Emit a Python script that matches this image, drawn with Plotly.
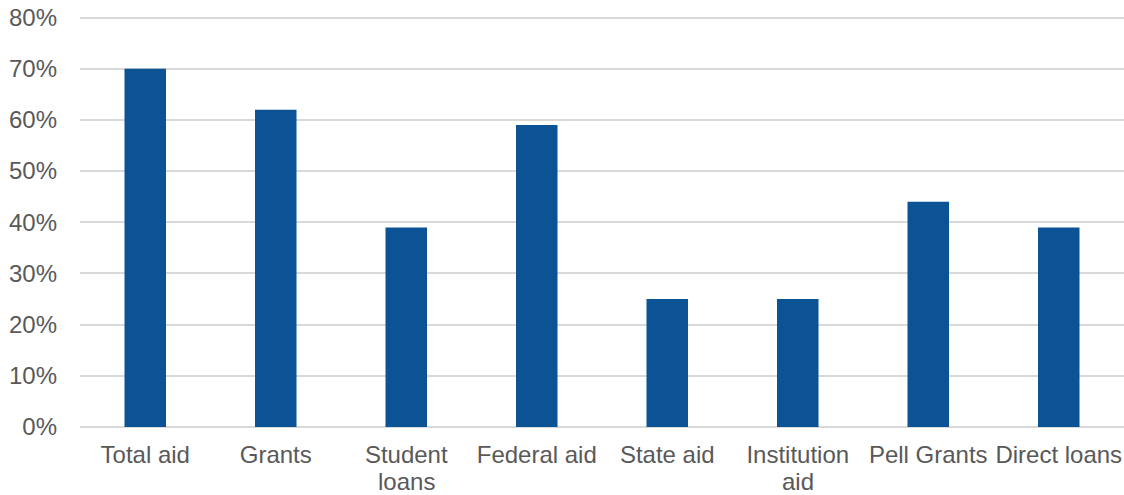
import plotly.graph_objects as go

categories = ["Total aid", "Grants", "Student", "Federal aid", "State aid",
              "Institution", "Pell Grants", "Direct loans"]
categories_line2 = ["", "", "loans", "", "", "aid", "", ""]
values = [0.70, 0.62, 0.39, 0.59, 0.25, 0.25, 0.44, 0.39]
y_ticks = [0, 0.1, 0.2, 0.3, 0.4, 0.5, 0.6, 0.7, 0.8]
y_tick_labels = ["0%", "10%", "20%", "30%", "40%", "50%", "60%", "70%", "80%"]

positions = list(range(len(categories)))

fig = go.Figure(go.Bar(
    x=positions, y=values,
    marker=dict(color="#0B5394", line=dict(width=0)),
))

font_family = "Liberation Sans, Arial, sans-serif"
fig.update_layout(
    width=1124, height=495,
    margin=dict(l=80, r=0, t=16, b=68),
    paper_bgcolor="white", plot_bgcolor="white",
    bargap=0.682,
    showlegend=False,
    font=dict(family=font_family, size=24, color="#595959"),
    xaxis=dict(
        range=[-0.5, len(categories) - 0.5],
        tickvals=positions, ticktext=categories,
        showgrid=False, showline=False, zeroline=False, ticks="",
        ticklabelstandoff=11, automargin=False, tickangle=0,
        tickfont=dict(size=24, color="#595959"),
    ),
    yaxis=dict(
        range=[0, 0.803], tickvals=y_ticks, ticktext=y_tick_labels,
        showgrid=True, gridcolor="#D9D9D9", gridwidth=1.5,
        zeroline=True, zerolinecolor="#D9D9D9", zerolinewidth=1.5,
        showline=False, ticks="", ticklabelstandoff=22, automargin=False,
        tickfont=dict(size=24, color="#595959"),
    ),
)

# second lines of the two-line category labels
for pos, txt in zip(positions, categories_line2):
    if txt:
        fig.add_annotation(
            x=pos, y=0, xref="x", yref="y", text=txt, showarrow=False,
            yanchor="top", xanchor="center", yshift=-39,
            font=dict(family=font_family, size=24, color="#595959"),
        )

fig.write_html(
    "out.html",
    config={"displayModeBar": False},
    post_script="document.body.style.margin='0';document.body.style.overflow='hidden';",
)
